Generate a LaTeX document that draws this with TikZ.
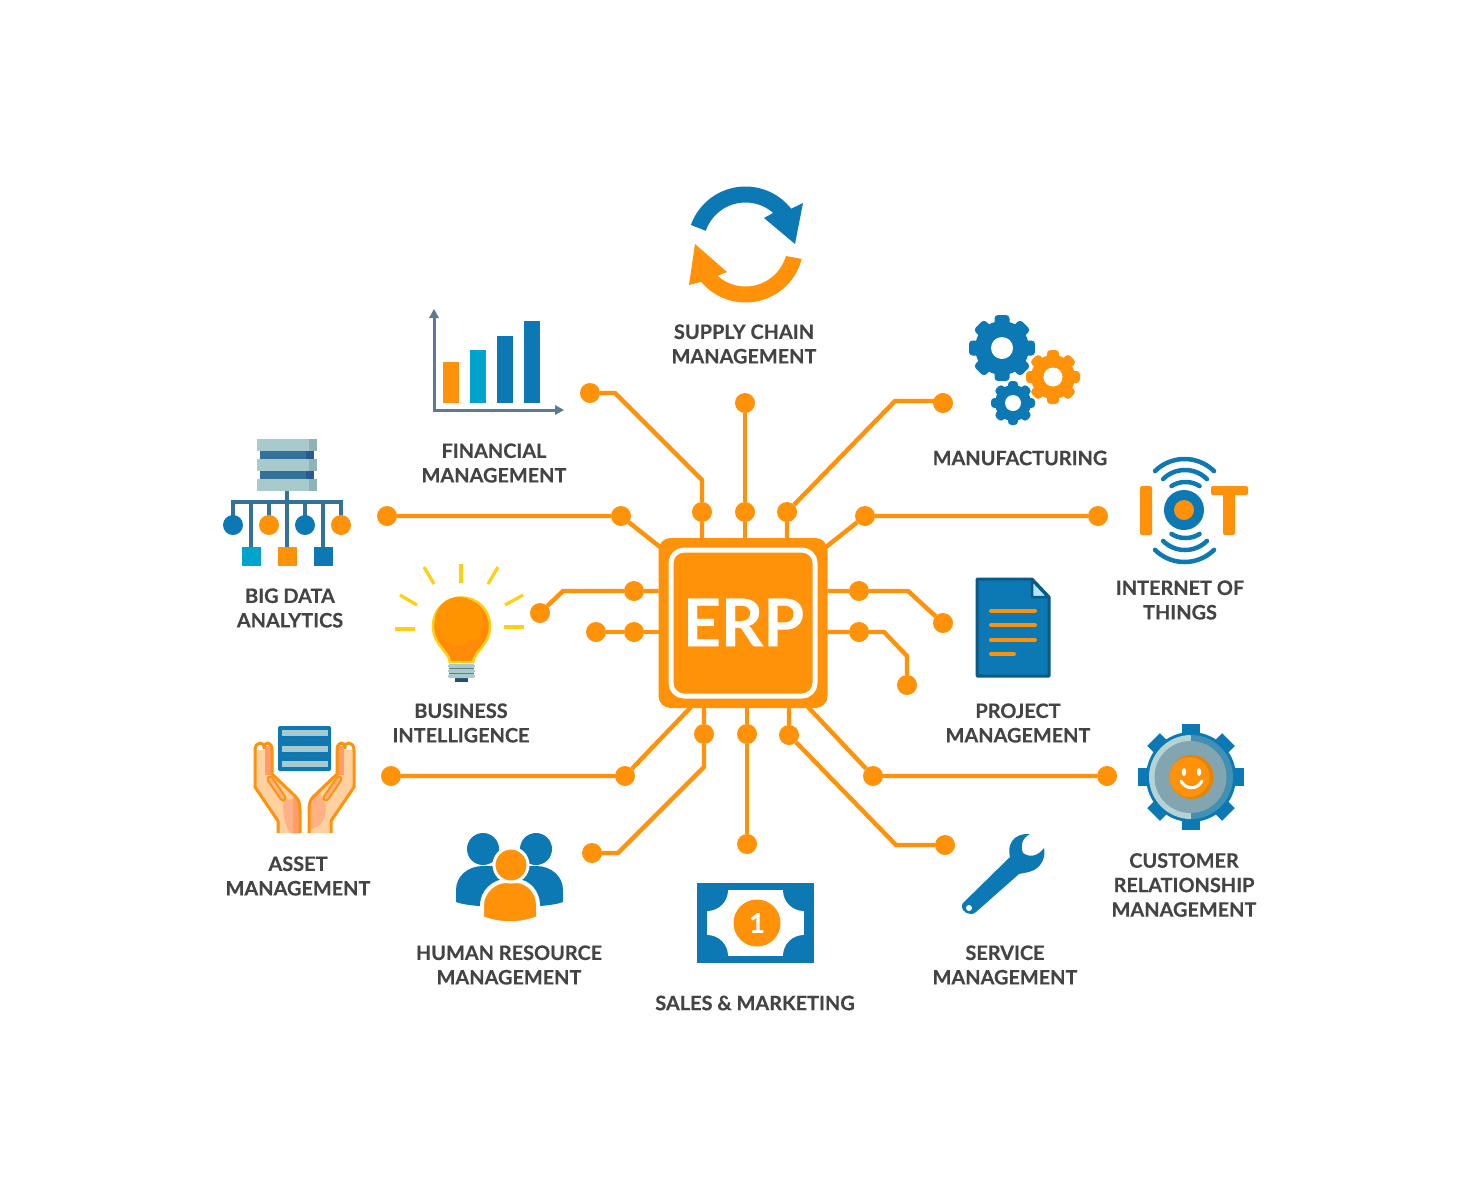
\documentclass[tikz,border=0pt]{standalone}
\usepackage{fontspec}
\newfontfamily\labfont{Lato}[BoldFeatures={FakeBold=0.35}]
\definecolor{org}{HTML}{FF9208}
\definecolor{blu}{HTML}{0C78B4}
\definecolor{cya}{HTML}{00A3CC}
\definecolor{txt}{HTML}{444444}
\definecolor{axis}{HTML}{5B7A96}
\definecolor{srvl}{HTML}{A8CACC}
\definecolor{srvs}{HTML}{8FB4B7}
\definecolor{srvd}{HTML}{33709A}
\definecolor{srve}{HTML}{2B5A8F}
\definecolor{yel}{HTML}{FFCF10}
\definecolor{peach}{HTML}{FFD0A0}
\definecolor{salm}{HTML}{FF9E6A}
\definecolor{salm2}{HTML}{FFB184}
\tikzset{
  wire/.style={draw=org,line width=4.4pt,line join=miter},
  pad/.style={circle,fill=org,minimum size=20pt,inner sep=0pt,outer sep=0pt},
  label/.style={align=center,text=txt,font=\labfont\bfseries\fontsize{19.9}{24.5}\selectfont,inner sep=0pt},
  ray/.style={draw=yel,line width=3.2pt},
  wave/.style={draw=blu,line width=4.5pt,line cap=round},
  tree/.style={draw=srvd,line width=3.5pt}
}
\newcommand\gearicon[7]{% cx cy Router Rbody toothw hole colour
  \fill[#7] (#1,#2) circle[radius=#4pt];
  \foreach \a in {0,45,...,315}
    \fill[#7,rounded corners=3.5pt,rotate around={\a:(#1,#2)}] ({#1-#5/2},{#2-#3}) rectangle ({#1+#5/2},#2);
  \fill[white] (#1,#2) circle[radius=#6pt];
}
\newcommand\wavearc[5]{% cx cy R from to
  \draw[wave] plot[domain=#4:#5,samples=25] ({#1+#3*cos(\x)},{#2+#3*sin(\x)});
}
\begin{document}
\begin{tikzpicture}[x=1pt,y=-1pt]
\useasboundingbox (0,0) rectangle (1480,1197);
\fill[white] (0,0) rectangle (1480,1197);

% chip
\node[draw=none,fill=org,rounded corners=12pt,minimum width=169pt,minimum height=170pt,inner sep=0pt,outer sep=0pt] (chip) at (743,623) {};
\node[draw=white,line width=5pt,rounded corners=13pt,minimum width=144pt,minimum height=146pt,inner sep=0pt] (core) at (743,623) {};
\node[text=white,font=\labfont\bfseries\fontsize{66}{66}\selectfont,inner sep=0pt] (erp) at (743.5,622.5) {ERP};

% pads
\foreach \n/\x/\y in {finA/590/393,finB/702/512,supA/745/403,supB/745/512,manA/943/403,manB/787/512,
  bigA/387/516,bigB/621/516,iotA/1098/516,iotB/865/516,bizA/540/613,bizB/634/591,auxA/596/632,auxB/634/632,
  proA/943/623,proB/859/591,ausA/907/685,ausB/859/632,astA/391/776,astB/625/776,humA/592/853,humB/704/734,
  salA/747/844,salB/747/734,srvA/945/845,srvB/789/735,crmA/1107/776,crmB/873/776}
  \node[pad] (\n) at (\x,\y) {};
\coordinate (bigP) at (660,547);
\coordinate (iotP) at (826,547);
\coordinate (astP) at (691,707);
\coordinate (crmP) at (808,707);

% connectors
\draw[wire] (finA) -- (615,393) -- (702,480) -- (finB) -- (finB |- chip.north);
\draw[wire] (supA) -- (supB) -- (supB |- chip.north);
\draw[wire] (manA) -- (943,401) -- (895,401) -- (manB) -- (manB |- chip.north);
\draw[wire] (bigA) -- (bigB) -- (bigP);
\draw[wire] (iotA) -- (iotB) -- (iotP);
\draw[wire] (bizA) -- (563,591) -- (bizB) -- (bizB -| chip.west);
\draw[wire] (auxA) -- (auxB) -- (auxB -| chip.west);
\draw[wire] (proA) -- (908,591) -- (proB) -- (proB -| chip.east);
\draw[wire] (ausA) -- (907,656) -- (884,632) -- (ausB) -- (ausB -| chip.east);
\draw[wire] (astA) -- (astB) -- (astP);
\draw[wire] (humA) -- (618,853) -- (704,767) -- (humB) -- (humB |- chip.south);
\draw[wire] (salA) -- (salB) -- (salB |- chip.south);
\draw[wire] (srvA) -- (896,845) -- (srvB) -- (srvB |- chip.south);
\draw[wire] (crmA) -- (crmB) -- (crmP);

% labels
\node[label] (lsup) at (744,344) {SUPPLY CHAIN\\MANAGEMENT};
\node[label] (lfin) at (494,463) {FINANCIAL\\MANAGEMENT};
\node[label] (lman) at (1020,458) {MANUFACTURING};
\node[label] (lbig) at (290,608) {BIG DATA\\ANALYTICS};
\node[label] (liot) at (1180,600) {INTERNET OF\\THINGS};
\node[label] (lbiz) at (461,723) {BUSINESS\\INTELLIGENCE};
\node[label] (lpro) at (1018,723) {PROJECT\\MANAGEMENT};
\node[label] (last) at (298,876) {ASSET\\MANAGEMENT};
\node[label] (lhum) at (509,965) {HUMAN RESOURCE\\MANAGEMENT};
\node[label] (lsal) at (755,1003) {SALES \& MARKETING};
\node[label] (lsrv) at (1005,965) {SERVICE\\MANAGEMENT};
\node[label] (lcrm) at (1184,885) {CUSTOMER\\RELATIONSHIP\\MANAGEMENT};

% supply chain icon
\fill[blu] plot[domain=199.7:321.9,samples=40] ({745.5+58*cos(\x)},{244.5+58*sin(\x)})
  -- (803,203) -- (795,244) -- (764,218) -- (773,213)
  -- plot[domain=311:199,samples=40] ({745.5+42*cos(\x)},{244.5+42*sin(\x)}) -- cycle;
\fill[org] plot[domain=14.4:139.9,samples=40] ({745.5+58*cos(\x)},{244.5+58*sin(\x)})
  -- (689,285) -- (695,244) -- (727,272) -- (717,276)
  -- plot[domain=132:15.9,samples=40] ({745.5+42*cos(\x)},{244.5+42*sin(\x)}) -- cycle;

% gears
\gearicon{1002}{348}{33}{27}{15}{11}{blu}
\gearicon{1053}{377}{27}{22}{12}{9.5}{org}
\gearicon{1013}{403}{22}{18}{10}{8}{blu}

% chart
\draw[axis,line width=3pt] (434,316) -- (434,410) -- (556,410);
\fill[axis] (434,309) -- (439,318) -- (429,318) -- cycle;
\fill[axis] (564,410) -- (555,405) -- (555,415) -- cycle;
\fill[org] (443,362) rectangle (459,403);
\fill[cya] (470,350) rectangle (486,403);
\fill[blu] (497,336) rectangle (513,403);
\fill[blu] (524,321) rectangle (540,403);

% big data
\draw[tree] (287,490) -- (287,550);
\draw[tree] (233,520) -- (233,502) -- (341,502) -- (341,520);
\draw[tree] (269,502) -- (269,520);
\draw[tree] (305,502) -- (305,520);
\draw[tree] (251,502) -- (251,550);
\draw[tree] (323,502) -- (323,550);
\foreach \y in {439,459,479} {
  \fill[srvl] (257,\y) rectangle (317,{\y+12});
  \fill[srvs] (309,\y) rectangle (317,{\y+12});
}
\foreach \y in {451,471} {
  \fill[srvd] (260,\y) rectangle (314,{\y+8});
  \fill[srve] (306,\y) rectangle (314,{\y+8});
}
\fill[blu] (233,525) circle[radius=10pt];
\fill[org] (269,525) circle[radius=10pt];
\fill[blu] (305,525) circle[radius=10pt];
\fill[org] (341,525) circle[radius=10pt];
\fill[cya] (241.5,547) rectangle (260.5,566);
\fill[org] (277.5,547) rectangle (296.5,566);
\fill[blu] (313.5,547) rectangle (332.5,566);

% bulb
\foreach \a/\b in {424/567,498/567} \draw[ray] (\a,\b) -- ({461+(\a-461)*0.73},584);
\draw[ray] (461,564) -- (461,583);
\draw[ray] (400,595) -- (417,605);
\draw[ray] (523,595) -- (505,605);
\draw[ray] (395,629) -- (415,629);
\draw[ray] (504,627) -- (524,627);
\fill[srvd!70!black] (455,678) rectangle (468,682);
\foreach \y in {664,669,674} \fill[srvl,rounded corners=1.5pt] (448,\y) rectangle (475,{\y+4});
\fill[srvs!70!black] (449,668) rectangle (474,669);
\fill[srvs!70!black] (449,673) rectangle (474,674);
\path[fill=org!95!red,draw=yel,line width=2.5pt] (450,662) .. controls (448,650) and (433,645) .. (433,626)
  .. controls (433,610) and (445.5,597.5) .. (461.5,597.5)
  .. controls (477.5,597.5) and (490,610) .. (490,626)
  .. controls (490,645) and (475,650) .. (473,662) -- cycle;
\fill[orange!85!yellow] (459,621) circle[radius=24pt];

% IoT
\fill[org,rounded corners=2pt] (1140,486) rectangle (1152,535);
\fill[org,rounded corners=2pt] (1211,486) rectangle (1248,495);
\fill[org,rounded corners=2pt] (1223,488) rectangle (1235,535);
\fill[blu] (1184,510) circle[radius=20pt];
\fill[org] (1184,510) circle[radius=10pt];
\wavearc{1184.5}{501}{42}{225.4}{314.6}
\wavearc{1185}{501}{31}{225}{315}
\wavearc{1185.5}{508}{26}{237.4}{302.6}
\wavearc{1184.5}{520}{42}{45.4}{134.6}
\wavearc{1185}{519}{31}{45}{135}
\wavearc{1185.5}{512}{26}{57.4}{122.6}

% document
\path[fill=blu,draw=blu!75!black,line width=3pt,line join=round] (977,579) -- (1032,579) -- (1049,597) -- (1049,676) -- (977,676) -- cycle;
\path[fill=cyan!30!white,draw=blu!75!black,line width=2.5pt,line join=round] (1032,580) -- (1048,597) -- (1032,597) -- cycle;
\foreach \y in {611,625,640}
  \draw[org,line width=4pt,line cap=round] (991,\y) -- (1035,\y);
\draw[org,line width=4pt,line cap=round] (991,654) -- (1014,654);

% hands
\fill[peach] (278,833) -- (278,821) -- (255,787) -- (255,750) -- (272,750) -- (272,774) -- (296,797) -- (300,810) -- (300,833) -- cycle;
\fill[peach] (331,833) -- (331,821) -- (354,787) -- (354,750) -- (337,750) -- (337,774) -- (313,797) -- (309,810) -- (309,833) -- cycle;
\fill[salm] (265,746) rectangle (272,775);
\fill[salm] (337,746) rectangle (344,775);
\fill[salm2] (283,801) -- (296,798) -- (300,810) -- (300,833) -- (290,833) .. controls (285,825) and (283,815) .. (283,801) -- cycle;
\fill[salm] (293,797) -- (296,797) -- (300,810) -- (300,833) -- (293,833) -- cycle;
\fill[salm2] (309,803) -- (319,791) -- (326,806) .. controls (326,820) and (320,828) .. (309,830) -- cycle;
\draw[org,line width=3pt,line join=round] (278,833) -- (278,821) -- (255,787) -- (255,750)
  .. controls (255,741) and (265,741) .. (264,748) .. controls (264,741) and (272,741) .. (272,750)
  -- (272,774) -- (296,797) .. controls (299,800) and (300,805) .. (300,810) -- (300,833);
\draw[org,line width=3pt,line join=round] (331,833) -- (331,821) -- (354,787) -- (354,750)
  .. controls (354,741) and (344,741) .. (345,748) .. controls (345,741) and (337,741) .. (337,750)
  -- (337,774) -- (313,797) .. controls (310,800) and (309,805) .. (309,810) -- (309,833);
\draw[org,line width=7pt,line cap=round] (270,779) -- (283,798);
\draw[org,line width=7pt,line cap=round] (339,779) -- (326,798);
\draw[salm2,line width=3pt,line cap=round] (270,779) -- (283,798);
\draw[salm2,line width=3pt,line cap=round] (339,779) -- (326,798);
\fill[blu,rounded corners=2pt] (278,726) rectangle (331,771);
\foreach \y in {730,746,761} \fill[srvl] (282,\y) rectangle (328,{\y+6});
\foreach \y in {740,756} \draw[srvd,line width=1.5pt,densely dotted] (284,\y) -- (326,\y);

% people
\fill[blu] (483,849) circle[radius=16pt];
\fill[blu] (536,849) circle[radius=16pt];
\fill[blu] (456,902) -- (456,890) .. controls (456,876) and (468,866) .. (483,866) -- (536,866)
  .. controls (551,866) and (563,876) .. (563,890) -- (563,902) .. controls (545,909) and (474,909) .. (456,902) -- cycle;
\path[fill=org,draw=white,line width=4pt,line join=round] (482,918) -- (482,905) .. controls (482,892) and (494,881) .. (506,881) -- (516,881)
  .. controls (528,881) and (538,892) .. (538,905) -- (538,918) .. controls (520,925) and (500,925) .. (482,918) -- cycle;
\path[fill=org,draw=white,line width=3pt] (511,865) circle[radius=17pt];

% money
\fill[blu] (697,883) rectangle (814,963);
\begin{scope}
  \clip (707,890) rectangle (804,956);
  \fill[white] (707,890) rectangle (804,956);
  \foreach \x in {707,804} \foreach \y in {890,956} \fill[blu] (\x,\y) circle[radius=21pt];
\end{scope}
\fill[org] (757,923) circle[radius=23.5pt];
\node[text=white,font=\labfont\bfseries\fontsize{27}{27}\selectfont,inner sep=0pt] (one) at (757,923) {1};

% wrench
\fill[blu] (1030,834) .. controls (1022,838) and (1020,846) .. (1023,853) .. controls (1030,858) and (1038,856) .. (1044,848)
  .. controls (1046,856) and (1042,866) .. (1034,870) .. controls (1028,873) and (1022,873) .. (1019,874)
  -- (976,912) .. controls (970,917) and (961,912) .. (962,905) -- (963,903) -- (1010,857) .. controls (1007,846) and (1012,833) .. (1030,834) -- cycle;
\fill[white] (969,908) circle[radius=3pt];

% CRM gear
\fill[blu] (1191,777) circle[radius=45pt];
\foreach \a in {0,45,...,315}
  \fill[blu,rotate around={\a:(1191,777)}] (1182,724) rectangle (1200,777);
\begin{scope}
  \clip (1140,730) rectangle (1191,825);
  \fill[srvl!85!white] (1191,777) circle[radius=42pt];
\end{scope}
\begin{scope}
  \clip (1191,730) rectangle (1240,825);
  \fill[blu!60!srvs] (1191,777) circle[radius=42pt];
\end{scope}
\fill[srvs!75!axis] (1190.5,777) circle[radius=36pt];
\fill[org!90!black] (1191.5,777) circle[radius=22pt];
\fill[org] (1189.5,777) circle[radius=20pt];
\fill[white] (1184,772) ellipse[x radius=2.2pt,y radius=4pt];
\fill[white] (1199,772) ellipse[x radius=2.2pt,y radius=4pt];
\draw[white,line width=3pt,line cap=round] (1181,781) .. controls (1186,790) and (1197,790) .. (1202,781);
\end{tikzpicture}
\end{document}
